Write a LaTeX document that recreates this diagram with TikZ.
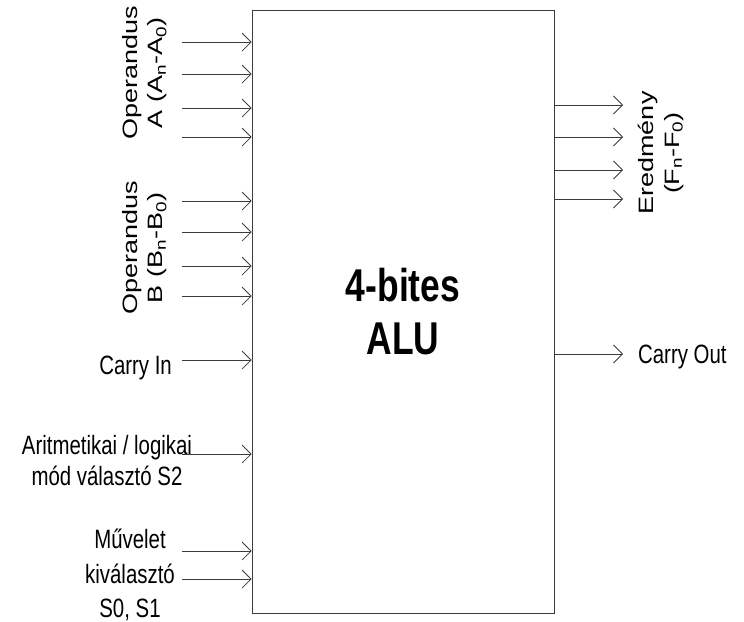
\documentclass[tikz,border=0pt]{standalone}
\usepackage{fontspec}
\setmainfont{Liberation Sans}
\usepackage{tikz}
\usetikzlibrary{arrows.meta}
\definecolor{wiregray}{RGB}{60,60,60}

\begin{document}
\begin{tikzpicture}[
  x=1.2987pt, y=-1pt, xscale=0.77,
  every node/.append style={transform shape},
  alubox/.style={rectangle, draw=wiregray, line width=1pt, inner sep=0pt, minimum width=392.2pt, minimum height=603pt, align=center, font=\fontsize{46}{53}\selectfont\bfseries},
  lbl/.style={align=center, inner sep=0pt, font=\fontsize{26.5}{31}\selectfont},
  rotlbl/.style={lbl, rotate=90, font=\fontsize{27}{32.5}\selectfont},
  sig/.style={-{Straight Barb[length=9pt, width=18pt]}, line width=0.8pt, draw=wiregray}
]
\useasboundingbox (0,0) rectangle (744,622);
\node[alubox] (alu) at (403,311.5) {4-bites\\ALU};

% labels
\node[rotlbl] (opA) at (145,73) {Operandus\\A (A\textsubscript{n}-A\textsubscript{0})};
\node[rotlbl] (opB) at (145,248) {Operandus\\B (B\textsubscript{n}-B\textsubscript{0})};
\node[rotlbl] (result) at (661,153) {Eredmény\\(F\textsubscript{n}-F\textsubscript{0})};
\node[lbl, anchor=base east] (cin) at (172,374) {Carry In};
\node[lbl] (mode) at (107,461) {Aritmetikai / logikai\\mód választó S2};
\node[lbl, font=\fontsize{26.5}{34.5}\selectfont] (opsel) at (130,575) {Művelet\\kiválasztó\\S0, S1};
\node[lbl, anchor=base west] (cout) at (638,363) {Carry Out};

% input wires
\coordinate (a3) at (182,42);
\coordinate (a2) at (182,74);
\coordinate (a1) at (182,108);
\coordinate (a0) at (182,137);
\coordinate (b3) at (182,201);
\coordinate (b2) at (182,232);
\coordinate (b1) at (182,266);
\coordinate (b0) at (182,296);
\coordinate (ci) at (182,360);
\coordinate (s2) at (182,454);
\coordinate (s0) at (182,551);
\coordinate (s1) at (182,579);
% output wires
\coordinate (f3) at (623,105);
\coordinate (f2) at (623,137);
\coordinate (f1) at (623,170);
\coordinate (f0) at (623,199);
\coordinate (co) at (623,354);

\draw[sig] (a3) -- (a3 -| alu.west);
\draw[sig] (a2) -- (a2 -| alu.west);
\draw[sig] (a1) -- (a1 -| alu.west);
\draw[sig] (a0) -- (a0 -| alu.west);
\draw[sig] (b3) -- (b3 -| alu.west);
\draw[sig] (b2) -- (b2 -| alu.west);
\draw[sig] (b1) -- (b1 -| alu.west);
\draw[sig] (b0) -- (b0 -| alu.west);
\draw[sig] (ci) -- (ci -| alu.west);
\draw[sig] (s2) -- (s2 -| alu.west);
\draw[sig] (s0) -- (s0 -| alu.west);
\draw[sig] (s1) -- (s1 -| alu.west);
\draw[sig] (f3 -| alu.east) -- (f3);
\draw[sig] (f2 -| alu.east) -- (f2);
\draw[sig] (f1 -| alu.east) -- (f1);
\draw[sig] (f0 -| alu.east) -- (f0);
\draw[sig] (co -| alu.east) -- (co);
\end{tikzpicture}
\end{document}
